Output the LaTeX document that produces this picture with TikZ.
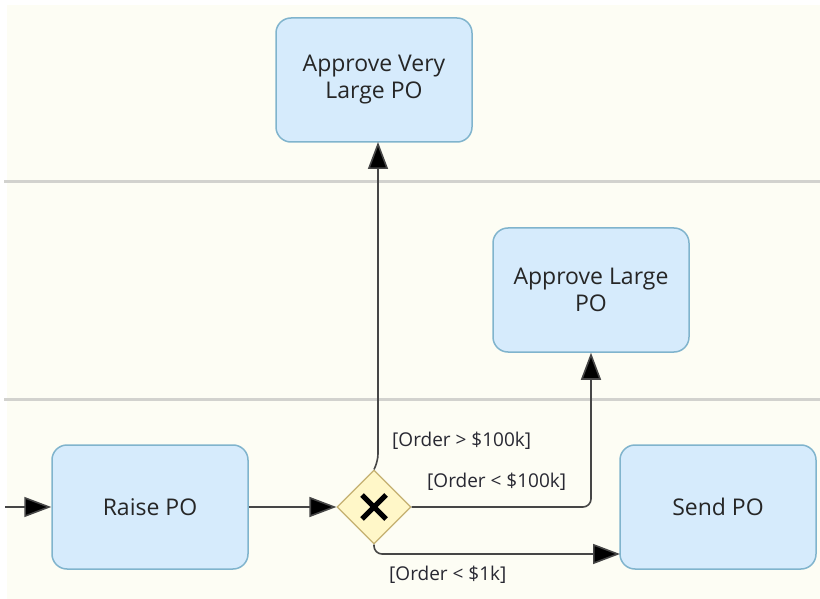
\documentclass[tikz,border=0pt]{standalone}
\usepackage{fontspec}
\setmainfont{Open Sans}
\usetikzlibrary{arrows.meta,shapes.geometric}
\definecolor{bgcream}{RGB}{253,253,244}
\definecolor{taskfill}{RGB}{214,235,252}
\definecolor{taskline}{RGB}{128,180,205}
\definecolor{gwfill}{RGB}{255,247,200}
\definecolor{gwline}{RGB}{196,176,112}
\definecolor{laneline}{RGB}{210,210,206}
\definecolor{flowline}{RGB}{70,70,70}
\definecolor{lbl}{RGB}{40,40,50}
\tikzset{
  task/.style={draw=taskline,line width=1.5pt,fill=taskfill,rounded corners=15pt,
    minimum width=196pt,minimum height=124pt,align=center,inner sep=0pt,
    font=\fontsize{23}{27}\selectfont,text=black!85},
  gateway/.style={draw=gwline,line width=1.2pt,fill=gwfill,diamond,aspect=1,
    minimum width=74pt,minimum height=74pt,inner sep=0pt},
  flow/.style={draw=flowline,line width=1.6pt,rounded corners=8pt,
    -{Triangle[length=27pt,width=20pt,fill=black]}},
  guard/.style={font=\fontsize{19}{22}\selectfont,text=lbl,inner sep=0pt},
  lane/.style={draw=laneline,line width=3pt}
}
\begin{document}
\begin{tikzpicture}[x=1pt,y=-1pt]
\useasboundingbox (0,0) rectangle (820,599);
\fill[white] (0,0) rectangle (820,599);
\fill[bgcream] (7,5) rectangle (820,599);
\draw[lane] (4,182) -- (820,182);
\draw[lane] (4,399) -- (820,399);

\node[task] (avl) at (374,80) {Approve Very\\Large PO};
\node[task] (al) at (591,290) {Approve Large\\PO};
\node[task] (raise) at (150,507) {Raise PO};
\node[task] (send) at (718,507) {Send PO};
\node[gateway] (gw) at (374,507) {};
\draw[line width=5pt,black] ([shift={(-12,-12)}]gw.center) -- ([shift={(12,12)}]gw.center);
\draw[line width=5pt,black] ([shift={(-12,12)}]gw.center) -- ([shift={(12,-12)}]gw.center);

\coordinate (start) at (5,507);
\coordinate (bendup) at (378,462);
\coordinate (avlin) at (378,142);
\coordinate (bendright) at (591,507);
\coordinate (benddown) at (374,554);
\coordinate (sendin) at (620,554);
\draw[flow] (start) -- (raise.west);
\draw[flow] (raise.east) -- (gw.west);
\draw[flow] (gw.north) -- (bendup) -- (avlin);
\draw[flow] (gw.east) -- (bendright) -- (al.south);
\draw[flow] (gw.south) -- (benddown) -- (sendin);

\node[guard,anchor=west] (g1) at (392,441) {[Order > \$100k]};
\node[guard,anchor=west] (g2) at (427,482) {[Order < \$100k]};
\node[guard,anchor=west] (g3) at (389,575) {[Order < \$1k]};
\end{tikzpicture}
\end{document}
